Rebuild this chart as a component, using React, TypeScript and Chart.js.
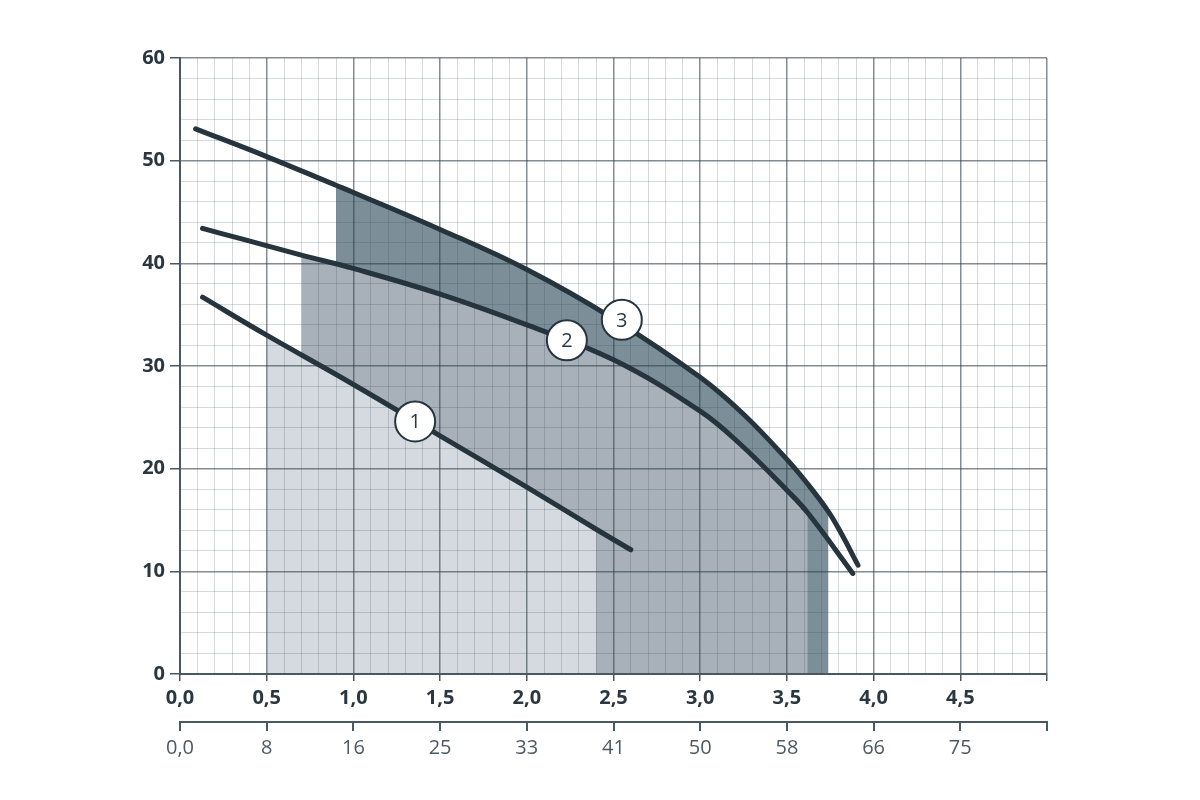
import { useEffect, useRef } from 'react';
import { Chart, registerables } from 'chart.js';

Chart.register(...registerables);

// Q, m3/h (upper axis) and l/min (lower axis)
const flowTickLabels = ['0,0', '0,5', '1,0', '1,5', '2,0', '2,5', '3,0', '3,5', '4,0', '4,5'];
const flowLpmTickLabels = ['0,0', '8', '16', '25', '33', '41', '50', '58', '66', '75'];

// H, m
const curve1X = [0.13, 0.5, 1.0, 1.5, 2.0, 2.4, 2.6];
const curve1Y = [36.7, 33.0, 28.2, 23.2, 18.2, 14.1, 12.1];

const curve2X = [0.13, 0.35, 0.7, 1.0, 1.5, 2.0, 2.5, 3.0, 3.23, 3.5, 3.62, 3.88];
const curve2Y = [43.4, 42.4, 40.8, 39.5, 37.0, 34.0, 30.6, 25.6, 22.4, 17.9, 15.7, 9.8];

const curve3X = [0.09, 0.5, 0.9, 1.0, 1.5, 2.0, 2.5, 3.0, 3.25, 3.5, 3.62, 3.74, 3.81, 3.91];
const curve3Y = [53.1, 50.4, 47.6, 46.9, 43.3, 39.4, 34.6, 28.9, 25.3, 20.9, 18.5, 15.8, 13.8, 10.6];

// working ranges (shaded)
const range1 = [0.5, 2.4];
const range2 = [0.7, 3.62];
const range3 = [0.9, 3.74];

const badgeX = [1.356, 2.231, 2.548];
const badgeY = [24.6, 32.5, 34.5];
const badgeText = ['1', '2', '3'];

const INK = '#26343e';

const pts = (xs: number[], ys: number[]) => xs.map((x, i) => ({ x, y: ys[i] }));
const inRange = (xs: number[], ys: number[], r: number[]) =>
  pts(xs, ys).filter((p) => p.x >= r[0] - 1e-9 && p.x <= r[1] + 1e-9);

const badgeTextPlugin = {
  id: 'badgeText',
  afterDatasetsDraw(chart: any) {
    const meta = chart.getDatasetMeta(0);
    const ctx = chart.ctx;
    ctx.save();
    ctx.font = '20px "Open Sans", sans-serif';
    ctx.fillStyle = '#2c3944';
    ctx.textAlign = 'center';
    ctx.textBaseline = 'middle';
    meta.data.forEach((el: any, i: number) => {
      ctx.fillText(badgeText[i], el.x, el.y + 1);
    });
    ctx.restore();
  },
};

const gridColor = (major: boolean) => (major ? 'rgba(50,65,75,0.6)' : 'rgba(50,65,75,0.2)');

export default function App() {
  const canvasRef = useRef<HTMLCanvasElement>(null);
  const chartRef = useRef<Chart | null>(null);

  useEffect(() => {
    if (!canvasRef.current) return;
    const ctx = canvasRef.current.getContext('2d');
    if (!ctx) return;

    const curveStyle = {
      borderColor: INK,
      borderWidth: 5,
      borderCapStyle: 'round' as const,
      pointRadius: 0,
      fill: false,
      tension: 0.4,
    };
    const areaStyle = {
      borderWidth: 0,
      borderColor: 'rgba(0,0,0,0)',
      pointRadius: 0,
      fill: 'origin',
      tension: 0.4,
    };

    const isMajorX = (v: number) => Math.round(v * 10) % 5 === 0;
    const isMajorY = (v: number) => Math.round(v) % 10 === 0;
    const tickFont = { family: '"Open Sans", sans-serif', size: 20, weight: 'bold' };

    chartRef.current?.destroy();
    chartRef.current = new Chart(ctx, {
      type: 'line',
      data: {
        datasets: [
          {
            label: 'badges',
            data: pts(badgeX, badgeY),
            showLine: false,
            pointRadius: 20,
            pointHoverRadius: 20,
            pointBackgroundColor: '#ffffff',
            pointBorderColor: INK,
            pointBorderWidth: 2,
          },
          { label: '1', data: pts(curve1X, curve1Y), ...curveStyle },
          { label: '2', data: pts(curve2X, curve2Y), ...curveStyle },
          { label: '3', data: pts(curve3X, curve3Y), ...curveStyle },
          { label: 'area1', data: inRange(curve1X, curve1Y, range1), ...areaStyle, backgroundColor: '#d4dadf' },
          { label: 'area2', data: inRange(curve2X, curve2Y, range2), ...areaStyle, backgroundColor: '#a8b0b9' },
          { label: 'area3', data: inRange(curve3X, curve3Y, range3), ...areaStyle, backgroundColor: '#7c8f98' },
        ] as any,
      },
      options: {
        animation: false,
        responsive: true,
        maintainAspectRatio: false,
        events: [],
        layout: { padding: { left: 0, top: 58, right: 153, bottom: 28 } },
        plugins: {
          legend: { display: false },
          tooltip: { enabled: false },
          filler: { drawTime: 'beforeDraw' },
        } as any,
        scales: {
          x: {
            type: 'linear',
            position: 'bottom',
            weight: 0,
            min: 0,
            max: 5,
            afterFit: (s: any) => { s.height = 48; },
            ticks: {
              stepSize: 0.1,
              maxTicksLimit: 200,
              autoSkip: false,
              maxRotation: 0,
              padding: 5,
              color: '#2b3740',
              font: tickFont,
              callback: (v: any) => {
                const n = Math.round(Number(v) * 10);
                return n % 5 === 0 ? flowTickLabels[n / 5] ?? '' : '';
              },
            },
            grid: {
              color: (c: any) => gridColor(isMajorX(c.tick?.value ?? 0)),
              lineWidth: (c: any) => (isMajorX(c.tick?.value ?? 0) ? 1.5 : 1),
              tickColor: (c: any) => (isMajorX(c.tick?.value ?? 0) ? '#4a5862' : 'rgba(0,0,0,0)'),
              tickLength: 7,
            },
            border: { display: true, color: '#4a5862', width: 2 },
          },
          x2: {
            type: 'linear',
            axis: 'x',
            position: 'bottom',
            weight: 1,
            min: 0,
            max: 5,
            afterFit: (s: any) => { s.height = 50; },
            ticks: {
              stepSize: 0.5,
              autoSkip: false,
              maxRotation: 0,
              padding: 5,
              color: '#4e5a63',
              font: { family: '"Open Sans", sans-serif', size: 20 },
              callback: (v: any) => flowLpmTickLabels[Math.round(Number(v) * 2)] ?? '',
            },
            grid: {
              drawOnChartArea: false,
              drawTicks: true,
              tickLength: 9,
              tickColor: '#4a5862',
              lineWidth: 2,
            },
            border: { display: true, color: '#4a5862', width: 2 },
          },
          y: {
            type: 'linear',
            min: 0,
            max: 60,
            afterFit: (s: any) => { s.width = 180; },
            ticks: {
              stepSize: 2,
              maxTicksLimit: 200,
              autoSkip: false,
              padding: 5,
              color: '#2b3740',
              font: tickFont,
              callback: (v: any) => (isMajorY(Number(v)) ? String(v) : ''),
            },
            grid: {
              color: (c: any) => gridColor(isMajorY(c.tick?.value ?? 0)),
              lineWidth: (c: any) => (isMajorY(c.tick?.value ?? 0) ? 1.5 : 1),
              tickColor: (c: any) => (isMajorY(c.tick?.value ?? 0) ? '#4a5862' : 'rgba(0,0,0,0)'),
              tickLength: 10,
            },
            border: { display: true, color: '#4a5862', width: 2 },
          },
        } as any,
      },
      plugins: [badgeTextPlugin],
    });

    return () => { chartRef.current?.destroy(); };
  }, []);

  return (
    <div style={{ position: 'fixed', left: 0, top: 0, width: 1200, height: 800, background: '#fff' }}>
      <canvas ref={canvasRef} />
    </div>
  );
}
